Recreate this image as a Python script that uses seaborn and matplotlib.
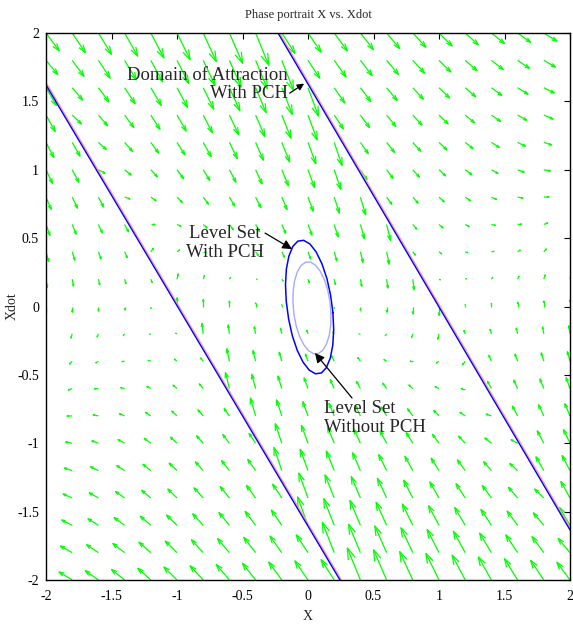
import numpy as np
import pandas as pd
import matplotlib
matplotlib.use("Agg")
import matplotlib.pyplot as plt
import matplotlib.transforms as mtransforms
from matplotlib.collections import LineCollection
import seaborn as sns

# grid of the phase portrait
grid_pts = np.linspace(-2, 2, 21)

# vector field: xdot' inside / outside the attraction band
band_slope = 1.62
band_half = 1.62
inside_gain = [-1.3, -2.6]          # xdot' = a*x + b*xdot
outside_gain = [0.9, -1.0, 0.8]     # xdot' = a*x + b*xdot -/+ c
arrow_scale = 0.05

# domain of attraction boundaries (end points)
left_line_x = [-2.0, 0.244]
left_line_y = [1.62, -2.0]
right_line_x = [-0.229, 2.0]
right_line_y = [2.0, -1.634]

# level set with PCH
outer_x = [0.190, 0.172, 0.144, 0.106, 0.062, 0.015, -0.033, -0.078, -0.116, -0.146, -0.165, -0.172,
           -0.166, -0.148, -0.120, -0.082, -0.038, 0.009, 0.057, 0.102, 0.140, 0.170, 0.189, 0.196]
outer_y = [-0.044, 0.084, 0.205, 0.313, 0.399, 0.457, 0.484, 0.478, 0.439, 0.369, 0.275, 0.161,
           0.036, -0.092, -0.213, -0.321, -0.407, -0.465, -0.492, -0.486, -0.447, -0.377, -0.283, -0.169]
# level set without PCH
inner_x = [0.175, 0.167, 0.150, 0.124, 0.092, 0.056, 0.018, -0.019, -0.053, -0.081, -0.102, -0.113,
           -0.115, -0.107, -0.090, -0.064, -0.032, 0.004, 0.042, 0.079, 0.113, 0.141, 0.162, 0.173]
inner_y = [-0.050, 0.038, 0.123, 0.199, 0.260, 0.303, 0.325, 0.324, 0.300, 0.255, 0.192, 0.115,
           0.030, -0.058, -0.143, -0.219, -0.280, -0.323, -0.345, -0.344, -0.320, -0.275, -0.212, -0.135]

ticks = [-2, -1.5, -1, -0.5, 0, 0.5, 1, 1.5, 2]
tick_labels = ["-2", "-1.5", "-1", "-0.5", "0", "0.5", "1", "1.5", "2"]

sns.set_style("white")
plt.rcParams["font.family"] = ["Liberation Serif", "DejaVu Serif"]
plt.rcParams["axes.unicode_minus"] = False

fig = plt.figure(figsize=(5.73, 6.24), dpi=100)
ax = fig.add_axes([0.0803, 0.0705, 0.9145, 0.8766])

# quiver, matlab style heads
X, Y = np.meshgrid(grid_pts, grid_pts)
S = band_slope * X + Y
U = Y
V = np.where(np.abs(S) <= band_half,
             inside_gain[0] * X + inside_gain[1] * Y,
             outside_gain[0] * X + outside_gain[1] * Y - np.sign(S) * outside_gain[2])
u = (U * arrow_scale).ravel()
v = (V * arrow_scale).ravel()
x0 = X.ravel()
y0 = Y.ravel()
tx, ty = x0 + u, y0 + v
al, be = 0.33, 0.33
segs = []
for i in range(len(x0)):
    segs.append([(x0[i], y0[i]), (tx[i], ty[i])])
    segs.append([(tx[i] - al * (u[i] + be * v[i]), ty[i] - al * (v[i] - be * u[i])),
                 (tx[i], ty[i]),
                 (tx[i] - al * (u[i] - be * v[i]), ty[i] - al * (v[i] + be * u[i]))])
ax.add_collection(LineCollection(segs, colors=(0, 1, 0), linewidths=0.9))

# domain lines (blue with faint red under it)
shift = mtransforms.offset_copy(ax.transData, fig=fig, x=1.2, y=0.6, units="dots")
for lx, ly in [(left_line_x, left_line_y), (right_line_x, right_line_y)]:
    ax.plot(lx, ly, color="#ff9c9c", lw=1.0, transform=shift)
    sns.lineplot(x=lx, y=ly, sort=False, estimator=None, color="#0000ff", lw=1.0, ax=ax)

sns.lineplot(x=outer_x + outer_x[:1], y=outer_y + outer_y[:1], sort=False, estimator=None,
             color="#0000ff", lw=1.1, ax=ax)
sns.lineplot(x=inner_x + inner_x[:1], y=inner_y + inner_y[:1], sort=False, estimator=None,
             color="#a8a8ff", lw=1.0, ax=ax)

# annotations
fs = 13.5
arr = dict(arrowstyle="-|>", color="k", lw=0.9, mutation_scale=14, shrinkA=0, shrinkB=0)
ax.text(-0.153, 1.623, "Domain of Attraction\nWith PCH", ha="right", va="center",
        multialignment="right", fontsize=fs, linespacing=1.1)
ax.annotate("", xy=(-0.03, 1.63), xytext=(-0.14, 1.56),
            arrowprops=dict(arr, mutation_scale=10))
ax.text(-0.637, 0.464, "Level Set\nWith PCH", ha="center", va="center",
        multialignment="center", fontsize=fs, linespacing=1.1)
ax.annotate("", xy=(-0.122, 0.42), xytext=(-0.328, 0.537), arrowprops=arr)
ax.text(0.122, -0.815, "Level Set\nWithout PCH", ha="left", va="center",
        multialignment="left", fontsize=fs, linespacing=1.1)
ax.annotate("", xy=(0.053, -0.34), xytext=(0.336, -0.669), arrowprops=arr)

ax.set_xlim(-2, 2)
ax.set_ylim(-2, 2)
ax.set_xticks(ticks)
ax.set_xticklabels(tick_labels)
ax.set_yticks(ticks)
ax.set_yticklabels(tick_labels)
ax.tick_params(direction="in", length=4, width=0.8, top=True, right=True, labelsize=10,
               colors="k")
ax.tick_params(axis="x", pad=7)
ax.tick_params(axis="y", pad=5)
for sp in ax.spines.values():
    sp.set_visible(True)
    sp.set_color("k")
    sp.set_linewidth(1.0)
ax.set_title("Phase portrait X vs. Xdot", fontsize=9, pad=11)
ax.set_xlabel("X", fontsize=10)
ax.set_ylabel("Xdot", fontsize=10)
ax.yaxis.set_label_coords(-0.053, 0.5)
ax.xaxis.set_label_coords(0.5, -0.055)

fig.savefig("out.png", dpi=100)
